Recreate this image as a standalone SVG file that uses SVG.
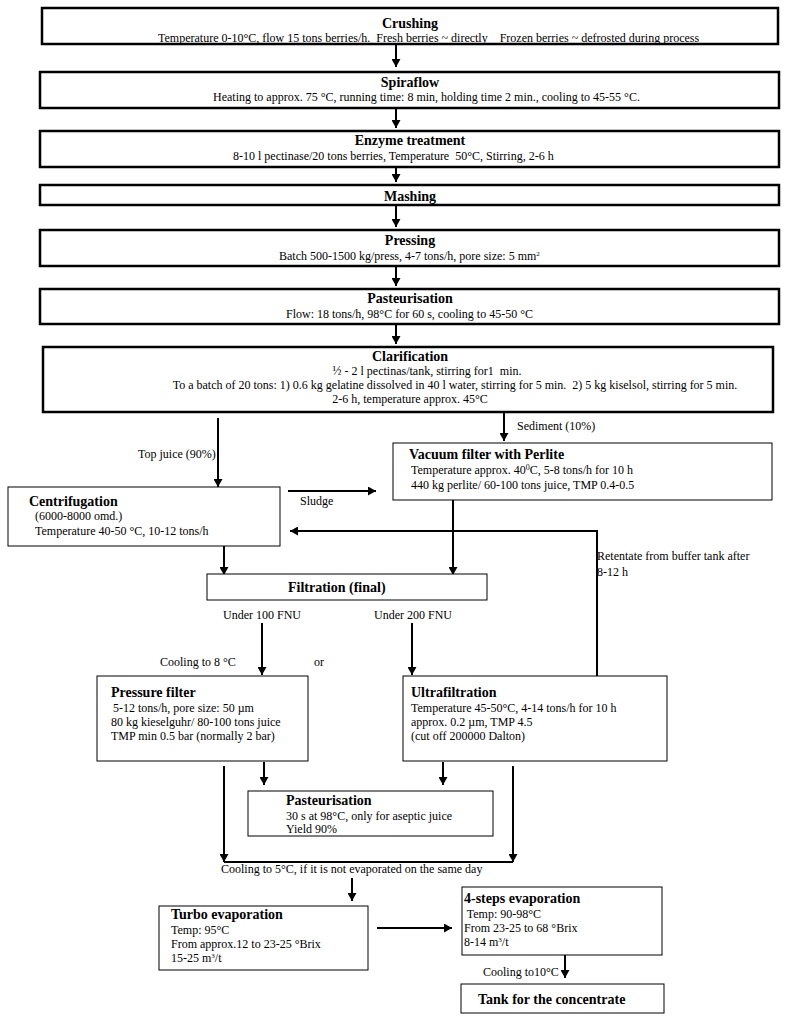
<svg xmlns="http://www.w3.org/2000/svg" width="788" height="1024" viewBox="0 0 788 1024">
<style>
text{font-family:"Liberation Serif","Times New Roman",serif;font-size:12px;fill:#000;white-space:pre}
.t{font-weight:bold;font-size:14px}
.c{text-anchor:middle}
.big{fill:#fff;stroke:#000;stroke-width:2.5}
.box{fill:#fff;stroke:#000;stroke-width:1}
.ln{fill:none;stroke:#000;stroke-width:2}
</style>
<defs>
<marker id="ah" markerUnits="userSpaceOnUse" markerWidth="8" markerHeight="9" refX="8" refY="4.5" orient="auto">
<path d="M0,0 L8,4.5 L0,9 z" fill="#000"/>
</marker>
</defs>
<g id="connectors">
<line class="ln" x1="396" y1="44" x2="396" y2="67" marker-end="url(#ah)"/>
<line class="ln" x1="396" y1="108" x2="396" y2="128" marker-end="url(#ah)"/>
<line class="ln" x1="396" y1="167" x2="396" y2="182" marker-end="url(#ah)"/>
<line class="ln" x1="396" y1="205" x2="396" y2="227" marker-end="url(#ah)"/>
<line class="ln" x1="396" y1="266" x2="396" y2="286" marker-end="url(#ah)"/>
<line class="ln" x1="396" y1="324" x2="396" y2="344" marker-end="url(#ah)"/>
<line class="ln" x1="218" y1="418" x2="218" y2="487" marker-end="url(#ah)"/>
<line class="ln" x1="504" y1="412" x2="504" y2="441" marker-end="url(#ah)"/>
<line class="ln" x1="288" y1="491" x2="376" y2="491" marker-end="url(#ah)"/>
<polyline class="ln" points="597,676 597,531 290,531" marker-end="url(#ah)"/>
<line class="ln" x1="224" y1="546" x2="224" y2="575" marker-end="url(#ah)"/>
<line class="ln" x1="453" y1="500" x2="453" y2="575" marker-end="url(#ah)"/>
<line class="ln" x1="262" y1="623" x2="262" y2="675" marker-end="url(#ah)"/>
<line class="ln" x1="412" y1="623" x2="412" y2="675" marker-end="url(#ah)"/>
<line class="ln" x1="264" y1="762" x2="264" y2="785" marker-end="url(#ah)"/>
<line class="ln" x1="443" y1="762" x2="443" y2="785" marker-end="url(#ah)"/>
<line class="ln" x1="224" y1="766" x2="224" y2="862" marker-end="url(#ah)"/>
<line class="ln" x1="513" y1="766" x2="513" y2="862" marker-end="url(#ah)"/>
<line class="ln" x1="224" y1="862" x2="513" y2="862"/>
<line class="ln" x1="352" y1="878" x2="352" y2="901" marker-end="url(#ah)"/>
<line class="ln" x1="377" y1="928" x2="452" y2="928" marker-end="url(#ah)"/>
<line class="ln" x1="565" y1="955" x2="565" y2="978" marker-end="url(#ah)"/>
</g>
<g id="labels">
<text x="138" y="458">Top juice (90%)</text>
<text x="517" y="430">Sediment (10%)</text>
<text x="300" y="505">Sludge</text>
<text x="597" y="560">Retentate from buffer tank after</text>
<text x="597" y="576">8-12 h</text>
<text x="223" y="619">Under 100 FNU</text>
<text x="374" y="619">Under 200 FNU</text>
<text x="160" y="666">Cooling to 8 °C</text>
<text x="314" y="666">or</text>
<text x="221" y="873">Cooling to 5°C, if it is not evaporated on the same day</text>
<text x="483" y="976">Cooling to10°C</text>
</g>
<g id="crushing">
<rect class="big" x="42" y="8" width="736" height="36"/>
<text class="t c" x="410" y="28">Crushing</text>
<text x="158" y="42">Temperature 0-10°C, flow 15 tons berries/h.  Fresh berries ~ directly    Frozen berries ~ defrosted during process</text>
</g>
<g id="spiraflow">
<rect class="big" x="40" y="72" width="739" height="36"/>
<text class="t c" x="410" y="87">Spiraflow</text>
<text x="213" y="101">Heating to approx. 75 °C, running time: 8 min, holding time 2 min., cooling to 45-55 °C.</text>
</g>
<g id="enzyme">
<rect class="big" x="40" y="131" width="739" height="36"/>
<text class="t c" x="410" y="145">Enzyme treatment</text>
<text x="233" y="160">8-10 l pectinase/20 tons berries, Temperature  50°C, Stirring, 2-6 h</text>
</g>
<g id="mashing">
<rect class="big" x="40" y="185" width="739" height="20"/>
<text class="t c" x="410" y="201">Mashing</text>
</g>
<g id="pressing">
<rect class="big" x="40" y="230" width="739" height="36"/>
<text class="t c" x="410" y="245">Pressing</text>
<text x="279" y="260">Batch 500-1500 kg/press, 4-7 tons/h, pore size: 5 mm<tspan font-size="7" dy="-4">2</tspan></text>
</g>
<g id="pasteurisation1">
<rect class="big" x="40" y="289" width="739" height="35"/>
<text class="t c" x="410" y="303">Pasteurisation</text>
<text x="286" y="318">Flow: 18 tons/h, 98°C for 60 s, cooling to 45-50 °C</text>
</g>
<g id="clarification">
<rect class="big" x="43" y="347" width="730" height="65"/>
<text class="t c" x="410" y="361">Clarification</text>
<text class="c" x="427" y="375">½ - 2 l pectinas/tank, stirring for1  min.</text>
<text class="c" x="455" y="389">To a batch of 20 tons: 1) 0.6 kg gelatine dissolved in 40 l water, stirring for 5 min.  2) 5 kg kiselsol, stirring for 5 min.</text>
<text class="c" x="410" y="403">2-6 h, temperature approx. 45°C</text>
</g>
<g id="centrifugation">
<rect class="box" x="8" y="487" width="272" height="59"/>
<text class="t" x="29" y="506">Centrifugation</text>
<text x="32" y="520"> (6000-8000 omd.)</text>
<text x="35" y="535">Temperature 40-50 °C, 10-12 tons/h</text>
</g>
<g id="vacuum">
<rect class="box" x="393" y="443" width="379" height="57"/>
<text class="t" x="409" y="459">Vacuum filter with Perlite</text>
<text x="411" y="474">Temperature approx. 40<tspan font-size="8" dy="-4">0</tspan><tspan dy="4">C, 5-8 tons/h for 10 h</tspan></text>
<text x="411" y="489">440 kg perlite/ 60-100 tons juice, TMP 0.4-0.5</text>
</g>
<g id="filtration">
<rect class="box" x="207" y="574" width="280" height="26"/>
<text class="t" x="288" y="592">Filtration (final)</text>
</g>
<g id="pressure">
<rect class="box" x="97" y="676" width="211" height="85"/>
<text class="t" x="111" y="697">Pressure filter</text>
<text x="110" y="712"> 5-12 tons/h, pore size: 50 µm</text>
<text x="111" y="726">80 kg kieselguhr/ 80-100 tons juice</text>
<text x="111" y="740">TMP min 0.5 bar (normally 2 bar)</text>
</g>
<g id="ultrafiltration">
<rect class="box" x="403" y="676" width="264" height="85"/>
<text class="t" x="411" y="697">Ultrafiltration</text>
<text x="411" y="712">Temperature 45-50°C, 4-14 tons/h for 10 h</text>
<text x="411" y="726">approx. 0.2 µm, TMP 4.5</text>
<text x="411" y="740">(cut off 200000 Dalton)</text>
</g>
<g id="pasteurisation2">
<rect class="box" x="248" y="791" width="245" height="45"/>
<text class="t" x="286" y="805">Pasteurisation</text>
<text x="286" y="820">30 s at 98°C, only for aseptic juice</text>
<text x="286" y="833">Yield 90%</text>
</g>
<g id="turbo">
<rect class="box" x="159" y="906" width="209" height="64"/>
<text class="t" x="171" y="919">Turbo evaporation</text>
<text x="171" y="934">Temp: 95°C</text>
<text x="171" y="948">From approx.12 to 23-25 °Brix</text>
<text x="171" y="962">15-25 m<tspan font-size="7" dy="-4">3</tspan><tspan dy="4">/t</tspan></text>
</g>
<g id="fourstep">
<rect class="box" x="462" y="887" width="200" height="68"/>
<text class="t" x="464" y="903">4-steps evaporation</text>
<text x="464" y="918"> Temp: 90-98°C</text>
<text x="464" y="932">From 23-25 to 68 °Brix</text>
<text x="464" y="946">8-14 m<tspan font-size="7" dy="-4">3</tspan><tspan dy="4">/t</tspan></text>
</g>
<g id="tank">
<rect class="box" x="461" y="984" width="203" height="29"/>
<text class="t" x="478" y="1004">Tank for the concentrate</text>
</g>
</svg>
